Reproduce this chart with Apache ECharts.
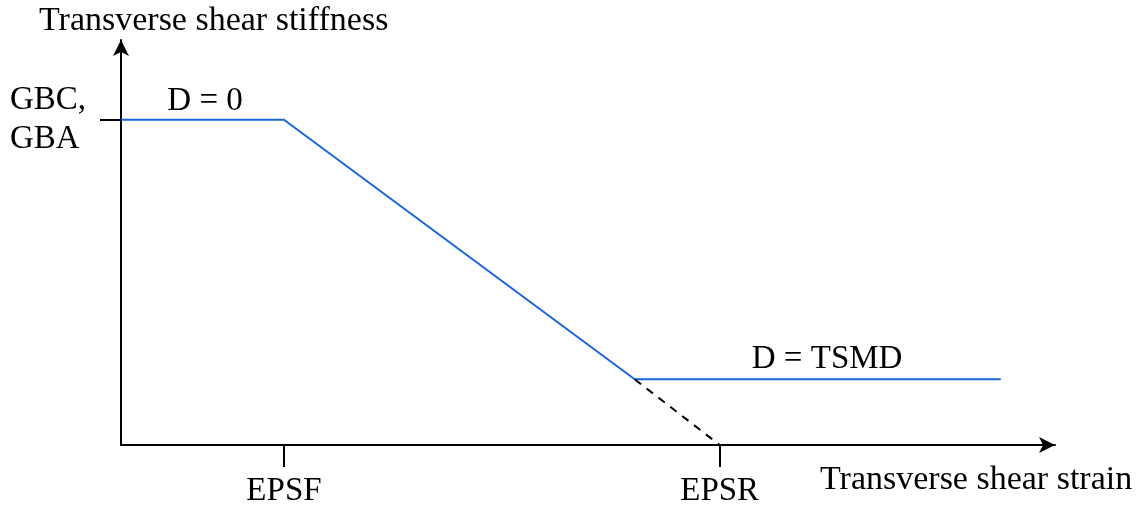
<!DOCTYPE html>
<html><head><meta charset="utf-8">
<script src="https://cdn.jsdelivr.net/npm/echarts@6/dist/echarts.min.js"></script>
<style>html,body{margin:0;padding:0;background:#fff}#c{width:1147px;height:508px}</style>
</head><body><div id="c"></div>
<script>
// Values in arbitrary units (x: 0..100 strain, y: 0..124.5 stiffness)
const xTickValues = [17.45, 64.1];
const xTickLabels = ['EPSF', 'EPSR'];
const yTickValues = [100];
const yTickLabels = ['GBC,\nGBA'];
const curveX = [0, 17.45, 55.0, 94.2];
const curveY = [100, 100, 20.2, 20.2];
const dashX = [55.0, 64.1];
const dashY = [20.2, 0];
const annotations = [
  {text: 'D = 0', x: 9.0, y: 105.8},
  {text: 'D = TSMD', x: 75.6, y: 26.4}
];
const xName = 'Transverse shear strain';
const yName = 'Transverse shear stiffness';

const FONT = 'Liberation Serif';
const FS = 33;
const chart = echarts.init(document.getElementById('c'));
chart.setOption({
  animation: false,
  backgroundColor: '#fff',
  title: [
    {text: yName, left: 34, top: -1, textStyle: {fontFamily: FONT, fontSize: 34, fontWeight: 'normal', color: '#000'}},
    {text: xName, left: 815, top: 458, textStyle: {fontFamily: FONT, fontSize: 34, fontWeight: 'normal', color: '#000'}}
  ],
  grid: {left: 121, right: 92, top: 40, bottom: 62},
  xAxis: {
    type: 'value', min: 0, max: 100,
    axisLine: {show: true, onZero: false, lineStyle: {color: '#000', width: 2}, symbol: ['none', 'arrow'], symbolSize: [12, 16], symbolOffset: [0, 0]},
    axisTick: {show: true, customValues: xTickValues, length: 22, lineStyle: {color: '#000', width: 2}},
    axisLabel: {show: true, customValues: xTickValues, margin: 30, fontFamily: FONT, fontSize: FS, color: '#000',
      formatter: v => xTickLabels[xTickValues.indexOf(v)]},
    splitLine: {show: false}
  },
  yAxis: {
    type: 'value', min: 0, max: 124.5,
    axisLine: {show: true, onZero: false, lineStyle: {color: '#000', width: 2}, symbol: ['none', 'arrow'], symbolSize: [12, 16], symbolOffset: [0, 0]},
    axisTick: {show: true, customValues: yTickValues, length: 21, lineStyle: {color: '#000', width: 2}},
    axisLabel: {show: true, customValues: yTickValues, margin: 111, align: 'left', lineHeight: 39, fontFamily: FONT, fontSize: FS, color: '#000',
      formatter: v => yTickLabels[yTickValues.indexOf(v)]},
    splitLine: {show: false}
  },
  series: [
    {type: 'line', data: curveX.map((x, i) => [x, curveY[i]]), symbol: 'none',
      lineStyle: {color: '#1a64dc', width: 2},
      markPoint: {symbol: 'circle', symbolSize: 1, itemStyle: {color: 'rgba(0,0,0,0)'},
        data: annotations.map(a => ({coord: [a.x, a.y], value: a.text})),
        label: {show: true, position: 'inside', formatter: p => p.value, fontFamily: FONT, fontSize: FS, color: '#000'}}},
    {type: 'line', data: dashX.map((x, i) => [x, dashY[i]]), symbol: 'none',
      lineStyle: {color: '#000', width: 2, type: [8, 7]}}
  ]
});
</script></body></html>
